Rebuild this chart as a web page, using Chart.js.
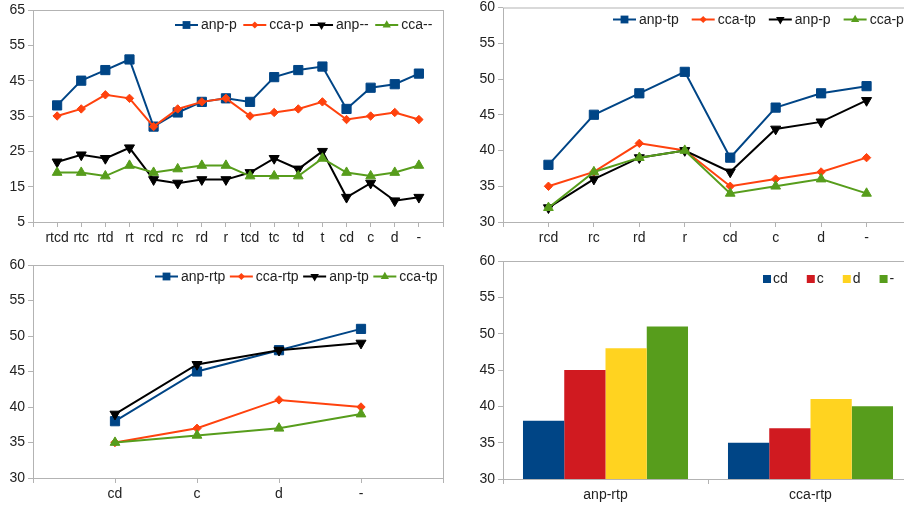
<!DOCTYPE html>
<html>
<head>
<meta charset="utf-8">
<script src="https://cdn.jsdelivr.net/npm/chart.js@4.4.0/dist/chart.umd.min.js"></script>
<style>
  html, body { margin: 0; padding: 0; background: #ffffff; }
  #board { position: relative; width: 904px; height: 508px; overflow: hidden; }
  #board canvas { position: absolute; }
</style>
</head>
<body>
<div id="board">
  <canvas id="c1" width="452" height="254" style="left:0;top:0"></canvas>
  <canvas id="c2" width="470" height="254" style="left:452px;top:0"></canvas>
  <canvas id="c3" width="452" height="254" style="left:0;top:254px"></canvas>
  <canvas id="c4" width="470" height="254" style="left:452px;top:254px"></canvas>
</div>
<script>
// ---- panel 1: all feature combinations ----
const catsAll   = ['rtcd','rtc','rtd','rt','rcd','rc','rd','r','tcd','tc','td','t','cd','c','d','-'];
const anpP      = [38,45,48,51,32,36,39,40,39,46,48,49,37,43,44,47];
const ccaP      = [35,37,41,40,32,37,39,40,35,36,37,39,34,35,36,34];
const anpNone   = [22,24,23,26,17,16,17,17,19,23,20,25,12,16,11,12];
const ccaNone   = [19,19,18,21,19,20,21,21,18,18,18,23,19,18,19,21];

// ---- panel 2: with / without t ----
const catsR     = ['rcd','rc','rd','r','cd','c','d','-'];
const anpTp     = [38,45,48,51,39,46,48,49];
const ccaTp     = [35,37,41,40,35,36,37,39];
const anpP2     = [32,36,39,40,37,43,44,47];
const ccaP2     = [32,37,39,40,34,35,36,34];

// ---- panel 3: with / without r ----
const catsCD    = ['cd','c','d','-'];
const anpRtp    = [38,45,48,51];
const ccaRtp    = [35,37,41,40];
const anpTp3    = [39,46,48,49];
const ccaTp3    = [35,36,37,39];

// ---- panel 4: grouped bars ----
const barGroups = ['anp-rtp','cca-rtp'];
const barSeries = ['cd','c','d','-'];

const FONT = '"Liberation Sans", Arial, sans-serif';
const TEXT = '#222222';
const GRAY = '#b3b3b3';
Chart.defaults.font.family = FONT;
Chart.defaults.font.size = 14;
Chart.defaults.color = TEXT;

const STYLE = {
  blue:  { color: '#004586', pointStyle: 'rect',     radius: 6.5, rotation: 0 },
  orange:{ color: '#ff420e', pointStyle: 'rectRot',  radius: 4.2, rotation: 0 },
  black: { color: '#000000', pointStyle: 'triangle', radius: 5.8, rotation: 180 },
  green: { color: '#579d1c', pointStyle: 'triangle', radius: 5.6, rotation: 0 }
};
const BAR_COLORS = ['#004586', '#d01a20', '#ffd320', '#579d1c'];

function drawMarker(ctx, ds, x, y, k) {
  const r = ds.pointRadius * k;
  ctx.fillStyle = ds.borderColor;
  ctx.beginPath();
  if (ds.pointStyle === 'rect') {
    const s = r * Math.SQRT1_2;
    ctx.rect(x - s, y - s, 2 * s, 2 * s);
  } else if (ds.pointStyle === 'rectRot') {
    ctx.moveTo(x - r, y); ctx.lineTo(x, y - r); ctx.lineTo(x + r, y); ctx.lineTo(x, y + r); ctx.closePath();
  } else {
    const d = ds.pointRotation === 180 ? -1 : 1;
    const h = r * Math.sqrt(3) / 2;
    ctx.moveTo(x, y - d * r); ctx.lineTo(x + h, y + d * r / 2); ctx.lineTo(x - h, y + d * r / 2); ctx.closePath();
  }
  ctx.fill();
}

// plot frame + in-plot legend row
const panelDecor = {
  id: 'panelDecor',
  beforeDatasetsDraw(chart) {
    const a = chart.chartArea, ctx = chart.ctx;
    ctx.save();
    ctx.strokeStyle = GRAY;
    ctx.lineWidth = 1;
    ctx.strokeRect(a.left + 0.5, a.top + 0.5, a.right - a.left, a.bottom - a.top);
    ctx.restore();
  },
  afterDraw(chart, args, o) {
    const ctx = chart.ctx;
    ctx.save();
    ctx.font = '14px ' + FONT;
    ctx.textBaseline = 'middle';
    ctx.textAlign = 'left';
    let x = o.left;
    chart.data.datasets.forEach(ds => {
      if (o.mode === 'box') {
        ctx.fillStyle = ds.backgroundColor;
        ctx.fillRect(x, o.y - 4, 8, 8);
        x += 10;
      } else {
        ctx.strokeStyle = ds.borderColor;
        ctx.lineWidth = 2;
        ctx.beginPath(); ctx.moveTo(x, o.y); ctx.lineTo(x + 23, o.y); ctx.stroke();
        drawMarker(ctx, ds, x + 11.5, o.y, 0.85);
        x += 26;
      }
      ctx.fillStyle = TEXT;
      ctx.fillText(ds.label, x, o.y + 0.5);
      x += ctx.measureText(ds.label).width + o.gap;
    });
    ctx.restore();
  }
};

function axes(geo, yMin, yMax, step, offset) {
  const grid = { drawOnChartArea: false, drawTicks: true, tickLength: 5, color: GRAY, offset: offset };
  return {
    x: {
      offset: offset,
      border: { display: false },
      grid: grid,
      ticks: { autoSkip: false, maxRotation: 0, minRotation: 0, padding: 3, color: TEXT, font: { size: 14 } },
      afterFit: s => { s.height = geo.xh; s.paddingLeft = 0; s.paddingRight = 0; }
    },
    y: {
      min: yMin, max: yMax,
      border: { display: false },
      grid: { drawOnChartArea: false, drawTicks: true, tickLength: 5, color: GRAY },
      ticks: { stepSize: step, padding: 3, color: TEXT, font: { size: 14 } },
      afterFit: s => { s.width = geo.yw; s.paddingTop = 0; s.paddingBottom = 0; }
    }
  };
}

function lineChart(id, cats, series, yMin, yMax, step, geo, legend) {
  return new Chart(document.getElementById(id), {
    type: 'line',
    data: {
      labels: ['', ...cats, ''],
      datasets: series.map((s, i) => ({
        label: s.label,
        data: [null, ...s.values, null],
        order: -i,
        borderColor: s.style.color,
        backgroundColor: s.style.color,
        borderWidth: 2,
        pointStyle: s.style.pointStyle,
        pointRadius: s.style.radius,
        pointRotation: s.style.rotation,
        pointBorderWidth: 1,
        pointBackgroundColor: s.style.color,
        pointBorderColor: s.style.color,
        tension: 0,
        fill: false
      }))
    },
    options: {
      responsive: false, animation: false, events: [],
      layout: { padding: { top: geo.top, right: geo.right, left: 0, bottom: 0 } },
      plugins: { legend: { display: false }, tooltip: { enabled: false }, panelDecor: legend },
      scales: axes(geo, yMin, yMax, step, false)
    },
    plugins: [panelDecor]
  });
}

lineChart('c1', catsAll, [
  { label: 'anp-p', values: anpP,    style: STYLE.blue },
  { label: 'cca-p', values: ccaP,    style: STYLE.orange },
  { label: 'anp--', values: anpNone, style: STYLE.black },
  { label: 'cca--', values: ccaNone, style: STYLE.green }
], 5, 65, 10, { top: 10, right: 9, xh: 32, yw: 33 }, { left: 175, y: 25, gap: 6.5 });

lineChart('c2', catsR, [
  { label: 'anp-tp', values: anpTp, style: STYLE.blue },
  { label: 'cca-tp', values: ccaTp, style: STYLE.orange },
  { label: 'anp-p',  values: anpP2, style: STYLE.black },
  { label: 'cca-p',  values: ccaP2, style: STYLE.green }
], 30, 60, 5, { top: 7, right: 10, xh: 32, yw: 51 }, { left: 161, y: 19.5, gap: 13 });

lineChart('c3', catsCD, [
  { label: 'anp-rtp', values: anpRtp, style: STYLE.blue },
  { label: 'cca-rtp', values: ccaRtp, style: STYLE.orange },
  { label: 'anp-tp',  values: anpTp3, style: STYLE.black },
  { label: 'cca-tp',  values: ccaTp3, style: STYLE.green }
], 30, 60, 5, { top: 11, right: 9, xh: 30, yw: 33 }, { left: 155, y: 22.5, gap: 4.5 });

// bars: one dataset per feature set, one group per method
new Chart(document.getElementById('c4'), {
  type: 'bar',
  data: {
    labels: barGroups,
    datasets: barSeries.map((name, i) => ({
      label: name,
      data: [anpRtp[i], ccaRtp[i]],
      backgroundColor: BAR_COLORS[i],
      borderWidth: 0,
      barPercentage: 1,
      categoryPercentage: 0.805
    }))
  },
  options: {
    responsive: false, animation: false, events: [],
    layout: { padding: { top: 7, right: 9, left: 0, bottom: 0 } },
    plugins: { legend: { display: false }, tooltip: { enabled: false },
               panelDecor: { left: 311, y: 25, gap: 19, mode: 'box' } },
    scales: axes({ xh: 29, yw: 51 }, 30, 60, 5, true)
  },
  plugins: [panelDecor]
});
</script>
</body>
</html>
